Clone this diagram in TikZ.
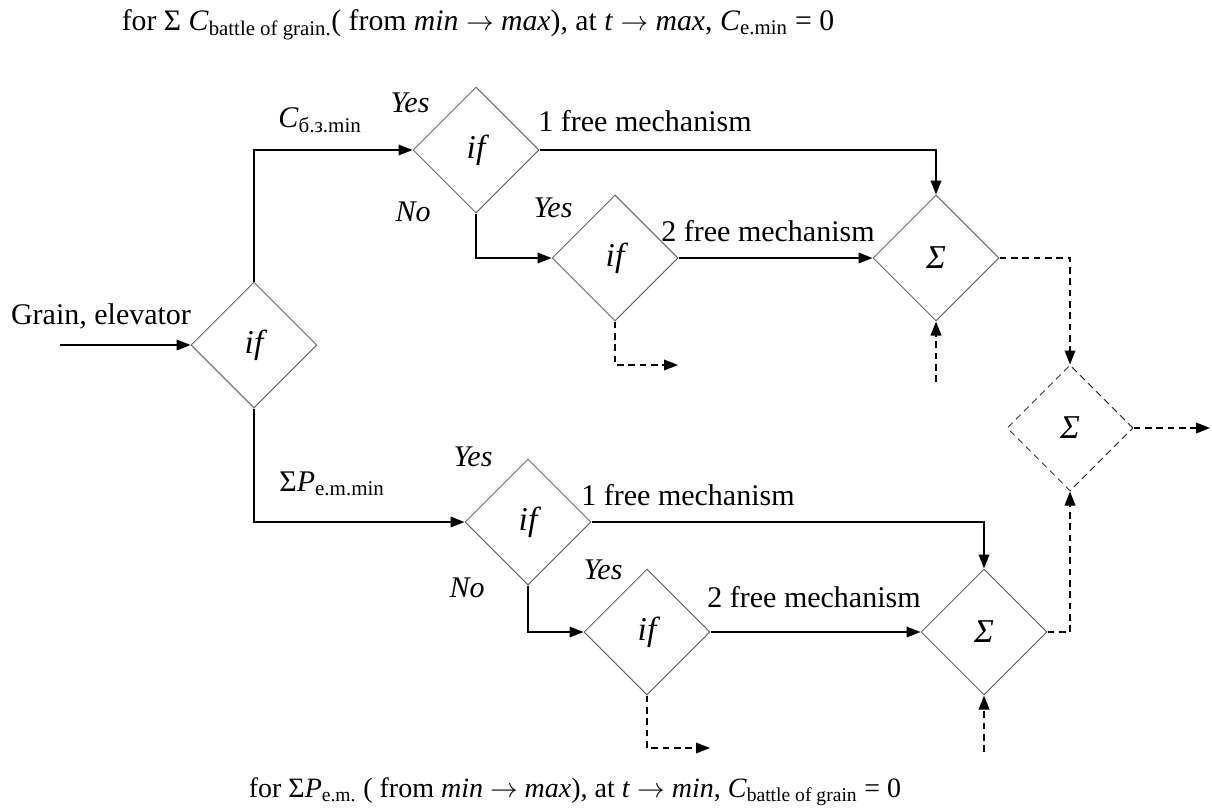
\documentclass[tikz,border=0pt]{standalone}
\usepackage{fontspec}
\setmainfont{Liberation Serif}
\usetikzlibrary{arrows.meta,positioning,shapes.geometric}

\begin{document}
\begin{tikzpicture}[x=0.75pt,y=-0.75pt,>={Triangle[length=10.5pt,width=8pt]},
  font=\fontsize{22.5}{27}\selectfont,
  cond/.style={draw=black!60,line width=0.75pt,diamond,aspect=1,minimum width=94.5pt,minimum height=94.5pt,inner sep=0pt,font=\fontsize{25}{29}\selectfont\itshape},
  flow/.style={->,line width=1.1pt},
  dflow/.style={->,line width=1.1pt,dash pattern=on 5pt off 3.5pt},
  lbl/.style={inner sep=1pt},
  ans/.style={inner sep=1pt,font=\fontsize{22.5}{27}\selectfont\itshape},
  note/.style={inner sep=1pt,font=\fontsize{21}{25}\selectfont}]
  \useasboundingbox (0,0) rectangle (1212,807);

  % decision and sum blocks
  \node[cond] (d0) at (254,345) {if};
  \node[cond] (d1) at (476,150) {if};
  \node[cond] (d2) at (615,258) {if};
  \node[cond] (d3) at (528,522) {if};
  \node[cond] (d4) at (647,632) {if};
  \node[cond] (s1) at (936,258) {Σ};
  \node[cond] (s2) at (984,632) {Σ};
  \node[cond,draw=black!80,dash pattern=on 5pt off 3.5pt] (s3) at (1070,428) {Σ};

  % free ends
  \coordinate (in) at (60,345);
  \coordinate (o1) at (678,365);
  \coordinate (o2) at (710,748);
  \coordinate (i1) at (936,382);
  \coordinate (i2) at (984,752);
  \coordinate (out) at (1210,428);

  % solid connectors
  \draw[flow] (in) -- (d0.west);
  \draw[flow] (d0.north) |- (d1.west);
  \draw[flow] (d0.south) |- (d3.west);
  \draw[flow] (d1.east) -| (s1.north);
  \draw[flow] (d1.south) |- (d2.west);
  \draw[flow] (d2.east) -- (s1.west);
  \draw[flow] (d3.east) -| (s2.north);
  \draw[flow] (d3.south) |- (d4.west);
  \draw[flow] (d4.east) -- (s2.west);

  % dashed connectors
  \draw[dflow] (d2.south) |- (o1);
  \draw[dflow] (d4.south) |- (o2);
  \draw[dflow] (i1) -- (s1.south);
  \draw[dflow] (i2) -- (s2.south);
  \draw[dflow] (s1.east) -| (s3.north);
  \draw[dflow] (s2.east) -| (s3.south);
  \draw[dflow] (s3.east) -- (out);

  % labels
  \node[lbl] (grain) at (101,316) {Grain, elevator};
  \node[lbl] (cmin) at (320,120) {\textit{C}\textsubscript{б.з.min}};
  \node[lbl] (pmin) at (332,484) {Σ\textit{P}\textsubscript{e.m.min}};
  \node[lbl] (f1a) at (645,121) {1 free mechanism};
  \node[lbl] (f2a) at (768,231) {2 free mechanism};
  \node[lbl] (f1b) at (688,495) {1 free mechanism};
  \node[lbl] (f2b) at (814,597) {2 free mechanism};
  \node[ans] (y1) at (410,103) {Yes};
  \node[ans] (n1) at (413,212) {No};
  \node[ans] (y2) at (553,208) {Yes};
  \node[ans] (y3) at (473,457) {Yes};
  \node[ans] (n3) at (467,588) {No};
  \node[ans] (y4) at (603,570) {Yes};

  % conditions
  \node[note,font=\fontsize{22.3}{26}\selectfont] (top) at (478,25) {for Σ \textit{C}\textsubscript{battle of grain.}( from \textit{min} $\rightarrow$ \textit{max}), at \textit{t} $\rightarrow$ \textit{max}, \textit{C}\textsubscript{e.min} = 0};
  \node[note] (bottom) at (575,792) {for Σ\textit{P}\textsubscript{e.m.} ( from \textit{min} $\rightarrow$ \textit{max}), at \textit{t} $\rightarrow$ \textit{min}, \textit{C}\textsubscript{battle of grain} = 0};
\end{tikzpicture}
\end{document}
